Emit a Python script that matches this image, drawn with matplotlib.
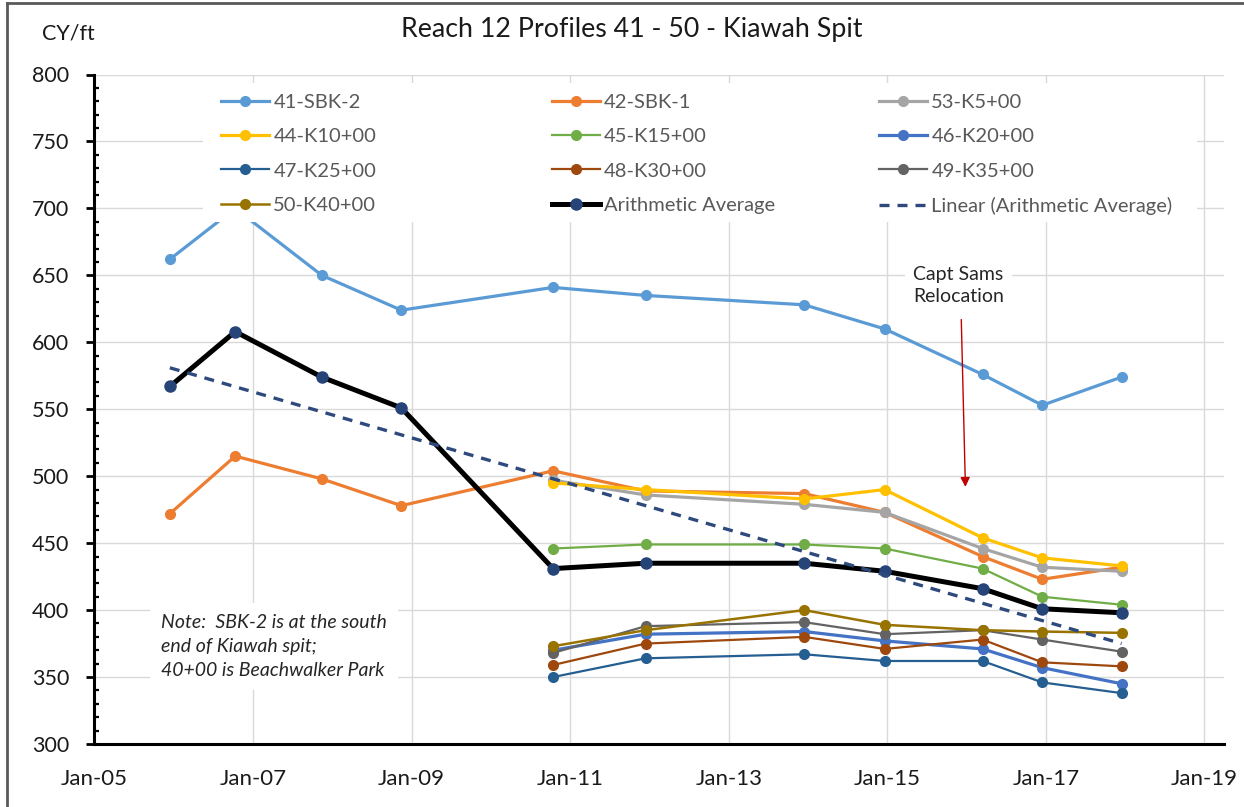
import datetime as dt
import numpy as np
import matplotlib.pyplot as plt
import matplotlib.dates as mdates
from matplotlib.lines import Line2D
from matplotlib.patches import Rectangle
from matplotlib.ticker import MultipleLocator

plt.rcParams['font.family'] = ['Lato', 'DejaVu Sans']

# survey dates; the K-series profiles start with the fall 2010 survey
survey_dates = ['2005-12-15', '2006-10-12', '2007-11-15', '2008-11-15', '2010-10-15',
                '2011-12-15', '2013-12-15', '2014-12-20', '2016-03-15', '2016-12-15',
                '2017-12-15']
late_dates = survey_dates[4:]

# volumes in CY/ft
sbk2 = [662, 700, 650, 624, 641, 635, 628, 610, 576, 553, 574]
sbk1 = [472, 515, 498, 478, 504, 489, 487, 473, 440, 423, 432]
k5 = [497, 486, 479, 473, 446, 432, 429]
k10 = [495, 490, 483, 490, 454, 439, 433]
k15 = [446, 449, 449, 446, 431, 410, 404]
k20 = [370, 382, 384, 377, 371, 357, 345]
k25 = [350, 364, 367, 362, 362, 346, 338]
k30 = [359, 375, 380, 371, 378, 361, 358]
k35 = [368, 388, 391, 382, 385, 378, 369]
k40 = [373, 385, 400, 389, 385, 384, 383]
avg = [567, 608, 574, 551, 431, 435, 435, 429, 416, 401, 398]

profiles = [
    ('41-SBK-2', survey_dates, sbk2, '#5B9BD5', 2.3),
    ('42-SBK-1', survey_dates, sbk1, '#ED7D31', 2.3),
    ('53-K5+00', late_dates, k5, '#A5A5A5', 2.3),
    ('44-K10+00', late_dates, k10, '#FFC000', 2.3),
    ('45-K15+00', late_dates, k15, '#70AD47', 1.6),
    ('46-K20+00', late_dates, k20, '#4472C4', 2.3),
    ('47-K25+00', late_dates, k25, '#255E91', 1.6),
    ('48-K30+00', late_dates, k30, '#9E480E', 1.6),
    ('49-K35+00', late_dates, k35, '#636363', 1.6),
    ('50-K40+00', late_dates, k40, '#997300', 1.8),
]

W, H = 1244, 807
fig = plt.figure(figsize=(W / 100, H / 100), dpi=100)
ax = fig.add_axes([94.3 / W, 63 / H, (1224 - 94.3) / W, (744 - 74.5) / H])

handles = {}
for name, dates, vals, color, lw in profiles:
    x = [dt.datetime.strptime(d, '%Y-%m-%d') for d in dates]
    h, = ax.plot(x, vals, color=color, lw=lw, marker='o', markersize=7,
                 markerfacecolor=color, markeredgecolor=color, label=name, zorder=2)
    handles[name] = h

xd = [dt.datetime.strptime(d, '%Y-%m-%d') for d in survey_dates]
h_avg, = ax.plot(xd, avg, color='black', lw=3.6, marker='o', markersize=8,
                 markerfacecolor='#264478', markeredgecolor='#264478',
                 label='Arithmetic Average', zorder=3)

# linear trendline of the average
xn = mdates.date2num(xd)
coef = np.polyfit(xn, avg, 1)
xt = np.array([xn[0], xn[-1]])
h_lin, = ax.plot(mdates.num2date(xt), np.polyval(coef, xt), color='#2E4A7D', lw=2.4,
                 linestyle=(0, (3, 2.4)), label='Linear (Arithmetic Average)', zorder=3.5)

# axes
ax.set_xlim(dt.datetime(2005, 1, 1), dt.datetime(2019, 4, 1))
ax.set_ylim(300, 800)
ax.set_xticks([dt.datetime(y, 1, 1) for y in range(2005, 2020, 2)])
ax.xaxis.set_major_formatter(mdates.DateFormatter('%b-%y'))
ax.set_yticks(range(300, 801, 50))
ax.yaxis.set_minor_locator(MultipleLocator(10))
ax.grid(True, color='#d9d9d9', lw=1.0, zorder=0)
ax.set_axisbelow(True)
for s in ['top', 'right']:
    ax.spines[s].set_visible(False)
for s in ['left', 'bottom']:
    ax.spines[s].set_linewidth(2.2)
    ax.spines[s].set_color('black')
ax.tick_params(axis='x', length=0, pad=18, labelsize=16, labelcolor='#1a1a1a')
ax.tick_params(axis='y', which='major', direction='out', length=6, width=2,
               pad=12, labelsize=15.5, labelcolor='#1a1a1a')
ax.tick_params(axis='y', which='minor', direction='in', length=3.5, width=1.6)

# legend: white panel with three columns
ax.add_artist(Rectangle((203 / W, 1 - 222 / H), 994 / W, 139 / H, transform=fig.transFigure,
                        facecolor='white', edgecolor='none', zorder=4, clip_on=False))
columns = [
    ([handles['41-SBK-2'], handles['44-K10+00'], handles['47-K25+00'], handles['50-K40+00']], 221),
    ([handles['42-SBK-1'], handles['45-K15+00'], handles['48-K30+00'], h_avg], 551.7),
    ([handles['53-K5+00'], handles['46-K20+00'], handles['49-K35+00'], h_lin], 879),
]
for i, (hs, x0) in enumerate(columns):
    leg = ax.legend(handles=hs, loc='upper left', bbox_to_anchor=(x0 / W, 1 - 94 / H),
                    bbox_transform=fig.transFigure, frameon=False, fontsize=14.5,
                    handlelength=2.4, handletextpad=0.2, labelspacing=0.85,
                    borderpad=0, borderaxespad=0, labelcolor='#595959')
    leg.set_zorder(5)
    if i < len(columns) - 1:
        ax.add_artist(leg)

# notes
ax.text(0.059, 0.194, 'Note:  SBK-2 is at the south\nend of Kiawah spit;\n40+00 is Beachwalker Park',
        transform=ax.transAxes, fontsize=14, style='italic', color='#262626', va='top',
        ha='left', linespacing=1.5,
        bbox=dict(facecolor='white', edgecolor='none', pad=8), zorder=4)
ax.text(0.765, 0.685, 'Capt Sams\nRelocation', transform=ax.transAxes, fontsize=14,
        color='#262626', ha='center', va='center', linespacing=1.35,
        bbox=dict(facecolor='white', edgecolor='none', pad=6), zorder=4)
ax.annotate('', xy=(dt.datetime(2015, 12, 27), 492), xytext=(dt.datetime(2015, 12, 8), 617),
            arrowprops=dict(arrowstyle='-|>', color='#C00000', lw=1.0,
                            mutation_scale=14, shrinkA=0, shrinkB=0), zorder=4)

fig.text(632 / W, 1 - 30 / H, 'Reach 12 Profiles 41 - 50 - Kiawah Spit', fontsize=19.3,
         color='#1a1a1a', ha='center', va='center')
fig.text(68 / W, 1 - 34 / H, 'CY/ft', fontsize=15.5, color='#1a1a1a', ha='center', va='center')

# outer chart border
fig.add_artist(Line2D([7 / W, 7 / W], [0, 1 - 3 / H], transform=fig.transFigure,
                      color='#595959', lw=2))
fig.add_artist(Line2D([7 / W, 1], [1 - 3 / H, 1 - 3 / H], transform=fig.transFigure,
                      color='#595959', lw=2))

fig.savefig('out.png', dpi=100)
